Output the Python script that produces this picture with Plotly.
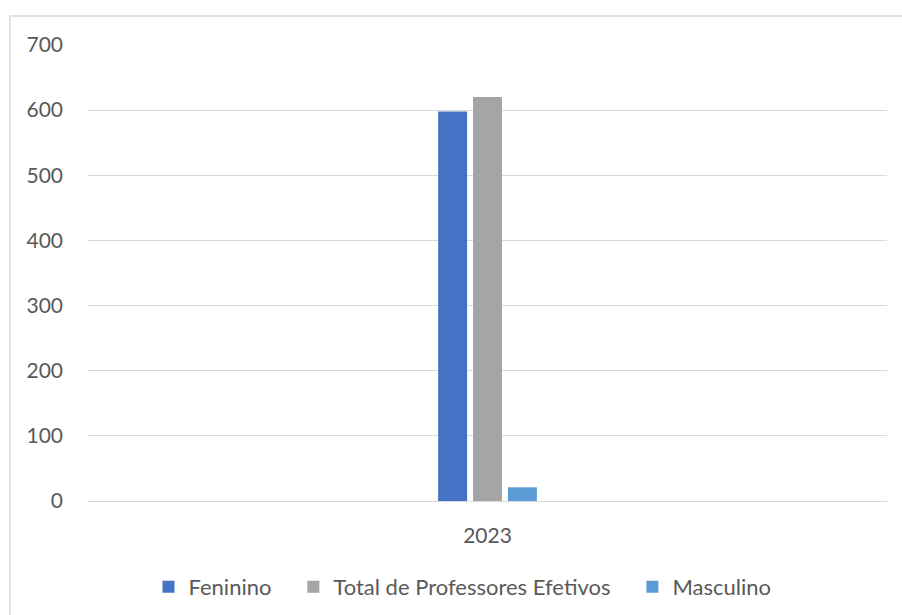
import plotly.graph_objects as go

# Professores efetivos por sexo, 2023
anos = ["2023"]
series = ["Feninino", "Total de Professores Efetivos", "Masculino"]
feninino = [598]
total = [620]
masculino = [21]
cores = ["#4472C4", "#A5A5A5", "#5B9BD5"]
y_ticks = [0, 100, 200, 300, 400, 500, 600, 700]

# extra blank space after each legend label, widening the gap between entries
espaco = "\u00a0" * 3

fig = go.Figure()
for i, (nome, valores, cor) in enumerate(zip(series, [feninino, total, masculino], cores)):
    rotulo = nome + (espaco if i < len(series) - 1 else "")
    fig.add_trace(go.Bar(x=anos, y=valores, name=rotulo, marker=dict(color=cor, line=dict(width=0))))

texto = dict(family="Lato, Open Sans, sans-serif", size=21, color="#595959")
texto_legenda = dict(family="Lato, Open Sans, sans-serif", size=22, color="#595959")

fig.update_layout(
    width=902, height=615,
    margin=dict(l=88, r=15, t=45, b=114),
    paper_bgcolor="white", plot_bgcolor="white",
    barmode="group", bargap=0.869, bargroupgap=0.17,
    font=texto,
    showlegend=True,
    legend=dict(orientation="h", x=0.4687, xanchor="center",
                yref="container", y=0.0455, yanchor="middle",
                font=texto_legenda, itemwidth=30, traceorder="normal", itemsizing="constant"),
    xaxis=dict(type="category", range=[-0.5, 0.5], showgrid=False, showline=False,
               ticks="", tickfont=texto, ticklabelstandoff=20, fixedrange=True,
               automargin=False),
    yaxis=dict(range=[0, 700], tickvals=y_ticks, showgrid=True, gridcolor="#D9D9D9",
               gridwidth=1, zeroline=True, zerolinecolor="#D9D9D9", zerolinewidth=1,
               showline=False, ticks="", tickfont=texto, ticklabelstandoff=24,
               automargin=False),
    shapes=[dict(type="rect", xref="paper", yref="paper", x0=-0.0976, y0=-0.4, x1=1.2, y1=1.0636,
                 line=dict(color="#D9D9D9", width=1.5), layer="below")],
)

fig.write_html("out.html")
